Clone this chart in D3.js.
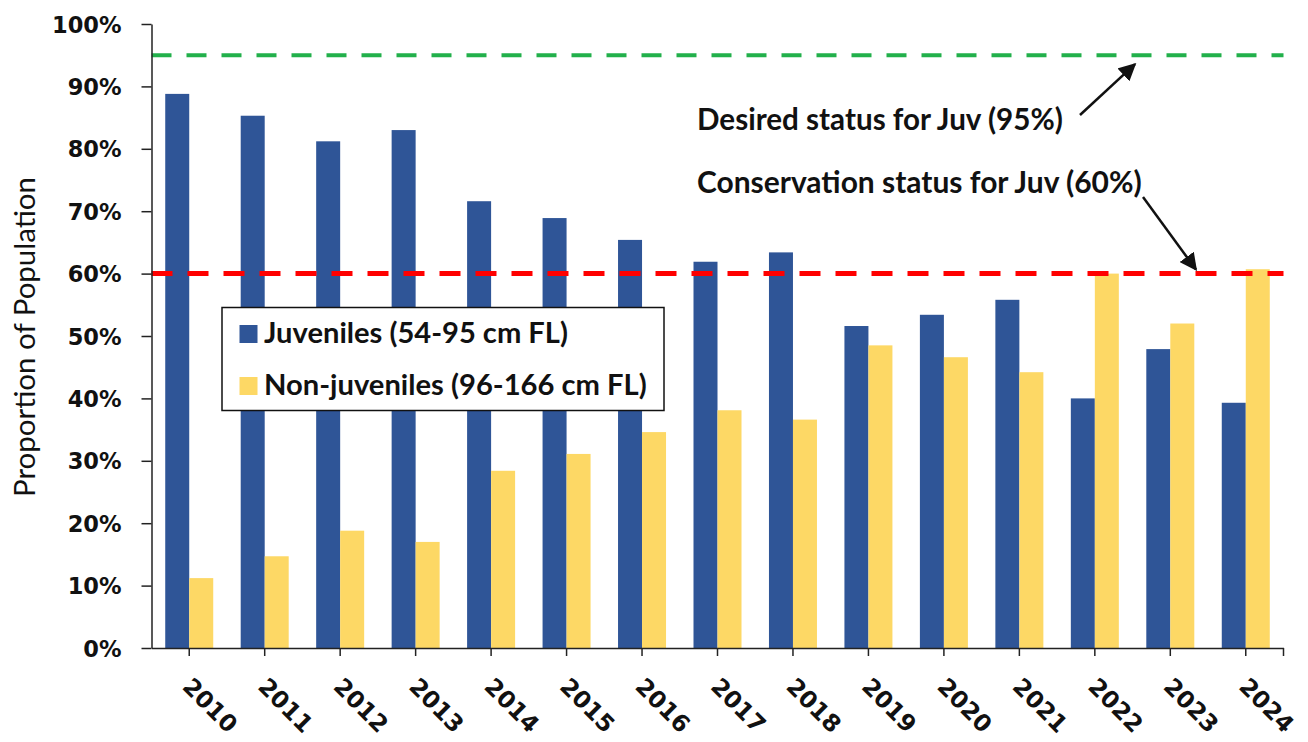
<!DOCTYPE html>
<html>
<head>
<meta charset="utf-8">
<script src="https://cdn.jsdelivr.net/npm/d3@7"></script>
<style>
  html, body { margin: 0; padding: 0; background: #fff; }
  svg { display: block; }
</style>
</head>
<body>
<svg id="chart" width="1308" height="742"></svg>
<script>
// ---------- data ----------
const years = ["2010","2011","2012","2013","2014","2015","2016","2017","2018","2019","2020","2021","2022","2023","2024"];
const juveniles    = [88.8, 85.3, 81.2, 83.0, 71.6, 68.9, 65.4, 61.9, 63.4, 51.6, 53.4, 55.8, 40.0, 47.9, 39.3];
const nonJuveniles = [11.2, 14.7, 18.8, 17.0, 28.4, 31.1, 34.6, 38.1, 36.6, 48.5, 46.6, 44.2, 60.0, 52.0, 60.7];
const seriesNames  = ["Juveniles (54-95 cm FL)", "Non-juveniles (96-166 cm FL)"];
const yTicks       = [0, 10, 20, 30, 40, 50, 60, 70, 80, 90, 100];
const desiredLevel = 95;
const conservationLevel = 60;
const desiredLabel = "Desired status for Juv (95%)";
const conservationLabel = "Conservation status for Juv (60%)";
const yTitle = "Proportion of Population";

// ---------- setup ----------
const svg = d3.select("#chart");
const plotLeft = 151.5, plotRight = 1283.5, plotTop = 24, plotBottom = 648;
const x = d3.scaleBand().domain(years).range([plotLeft, plotRight]).padding(0);
const y = d3.scaleLinear().domain([0, 100]).range([plotBottom, plotTop]);
const barW = 24;
const sub = d3.scaleBand().domain([0, 1]).range([x.bandwidth()/2 - barW, x.bandwidth()/2 + barW]);
const color = d3.scaleOrdinal().domain([0, 1]).range(["#2F5597", "#FDD865"]);
const textFont = "Lato, 'Open Sans', sans-serif";
const tickFont = "'DejaVu Sans', Verdana, sans-serif";

function fitText(sel, target, base) {
  const len = sel.node().getComputedTextLength();
  sel.attr("font-size", base * target / len);
}

// ---------- bars ----------
const rows = years.map((yr, i) => ({ year: yr, vals: [juveniles[i], nonJuveniles[i]] }));
const groups = svg.append("g").selectAll("g").data(rows).join("g")
  .attr("transform", d => `translate(${x(d.year)},0)`);
groups.selectAll("rect").data(d => d.vals.map((v, k) => ({ k, v }))).join("rect")
  .attr("x", d => sub(d.k))
  .attr("width", sub.bandwidth())
  .attr("y", d => y(d.v))
  .attr("height", d => y(0) - y(d.v))
  .attr("fill", d => color(d.k));

// ---------- reference lines ----------
svg.append("line")
  .attr("x1", plotLeft).attr("x2", plotRight)
  .attr("y1", y(desiredLevel)).attr("y2", y(desiredLevel))
  .attr("stroke", "#22B04B").attr("stroke-width", 4)
  .attr("stroke-dasharray", "20 15");
svg.append("line")
  .attr("x1", plotLeft).attr("x2", plotRight)
  .attr("y1", y(conservationLevel)).attr("y2", y(conservationLevel))
  .attr("stroke", "#FF0000").attr("stroke-width", 5)
  .attr("stroke-dasharray", "21 15");

// ---------- axes ----------
const yAxis = svg.append("g")
  .attr("transform", `translate(${plotLeft},0)`)
  .call(d3.axisLeft(y).tickValues(yTicks).tickFormat(d => d + "%").tickSize(10).tickPadding(20).tickSizeOuter(0));
yAxis.select(".domain").attr("stroke", "#222").attr("stroke-width", 1.5);
yAxis.selectAll(".tick line").attr("stroke", "#222").attr("stroke-width", 1.5);
yAxis.selectAll(".tick text")
  .attr("font-family", tickFont).attr("font-weight", "bold").attr("font-size", 22.5)
  .attr("fill", "#111").attr("dy", "0.36em");

const xAxis = svg.append("g")
  .attr("transform", `translate(0,${plotBottom})`)
  .call(d3.axisBottom(x).tickSize(8).tickSizeOuter(0));
xAxis.select(".domain").attr("stroke", "#222").attr("stroke-width", 1.5);
xAxis.selectAll(".tick line").attr("stroke", "#222").attr("stroke-width", 1.5);
xAxis.append("line").attr("x1", plotRight).attr("x2", plotRight).attr("y1", 0).attr("y2", 8)
  .attr("stroke", "#222").attr("stroke-width", 1.5);
xAxis.selectAll(".tick text")
  .attr("font-family", tickFont).attr("font-weight", "bold").attr("font-size", 23.5)
  .attr("fill", "#111")
  .attr("x", 0).attr("y", 0).attr("dy", 0)
  .attr("text-anchor", "start")
  .attr("transform", "translate(-8,40) rotate(45)");

// ---------- y title ----------
const yt = svg.append("text")
  .attr("transform", `translate(23,${(y(0)+y(100))/2 + 1}) rotate(-90)`)
  .attr("text-anchor", "middle").attr("dominant-baseline", "central")
  .attr("font-family", textFont).attr("font-size", 20).attr("fill", "#111")
  .text(yTitle);
fitText(yt, 320, 20);

// ---------- legend ----------
const lg = svg.append("g");
lg.append("rect").attr("x", 222).attr("y", 307.5).attr("width", 442).attr("height", 103)
  .attr("fill", "#fff").attr("stroke", "#111").attr("stroke-width", 1.5);
const legendTargets = [304, 383];
const legendBase = [343, 395];
seriesNames.forEach((name, k) => {
  lg.append("rect").attr("x", 239.5).attr("y", legendBase[k] - 18).attr("width", 18).attr("height", 18)
    .attr("fill", color(k));
  const t = lg.append("text").attr("x", 264).attr("y", legendBase[k])
    .attr("font-family", textFont).attr("font-weight", "bold").attr("font-size", 20)
    .attr("fill", "#111").text(name);
  fitText(t, legendTargets[k], 20);
});

// ---------- annotations ----------
const defs = svg.append("defs");
defs.append("marker").attr("id", "arr").attr("viewBox", "0 0 10 10")
  .attr("refX", 9).attr("refY", 5).attr("markerWidth", 7).attr("markerHeight", 7)
  .attr("markerUnits", "strokeWidth").attr("orient", "auto")
  .append("path").attr("d", "M0,0 L10,5 L0,10 Z").attr("fill", "#111");

const t1 = svg.append("text").attr("x", 697).attr("y", 130)
  .attr("font-family", textFont).attr("font-weight", "bold").attr("font-size", 20)
  .attr("fill", "#111").text(desiredLabel);
fitText(t1, 366, 20);
const t2 = svg.append("text").attr("x", 697).attr("y", 193)
  .attr("font-family", textFont).attr("font-weight", "bold").attr("font-size", 20)
  .attr("fill", "#111").text(conservationLabel);
fitText(t2, 445, 20);

svg.append("line").attr("x1", 1080).attr("y1", 115).attr("x2", 1135).attr("y2", y(desiredLevel) + 9)
  .attr("stroke", "#111").attr("stroke-width", 2.5).attr("marker-end", "url(#arr)");
svg.append("line").attr("x1", 1143).attr("y1", 197).attr("x2", 1196).attr("y2", y(conservationLevel) - 4)
  .attr("stroke", "#111").attr("stroke-width", 2.5).attr("marker-end", "url(#arr)");
</script>
</body>
</html>
